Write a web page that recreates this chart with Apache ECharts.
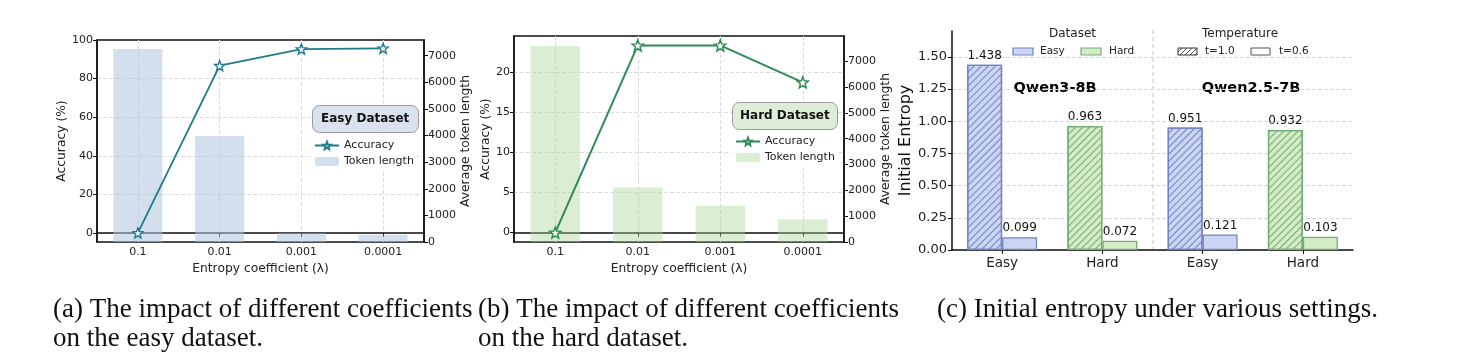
<!DOCTYPE html>
<html>
<head>
<meta charset="utf-8">
<script src="https://cdn.jsdelivr.net/npm/echarts@6/dist/echarts.min.js"></script>
<style>
  html, body { margin: 0; padding: 0; background: #fff; }
  #main { width: 1463px; height: 353px; }
</style>
</head>
<body>
<div id="main"></div>
<script>
// data
var lambdas = ['0.1', '0.01', '0.001', '0.0001'];
var easyAcc = [0, 86.7, 95.3, 95.7];
var easyTokens = [7250, 3980, 330, 270];
var hardAcc = [0, 23.3, 23.3, 18.7];
var hardTokens = [7590, 2115, 1400, 880];

var entropyGroups = ['Easy', 'Hard', 'Easy', 'Hard'];
var entropyT10 = [1.438, 0.963, 0.951, 0.932];
var entropyT06 = [0.099, 0.072, 0.121, 0.103];
var models = ['Qwen3-8B', 'Qwen2.5-7B'];

var FONT = 'DejaVu Sans';
var SERIF = 'Liberation Serif';
var STAR = 'path://M12,1 L14.9,8.6 L23,9 L16.7,14.1 L18.8,22 L12,17.6 L5.2,22 L7.3,14.1 L1,9 L9.1,8.6 Z';

var dsColors = {
    Easy: { fill: '#cad5f2', edge: '#7483c4' },
    Hard: { fill: '#d3ebc7', edge: '#74ae72' }
};

var myChart = echarts.init(document.getElementById('main'));

function hatch(color) {
    return {
        symbol: 'rect',
        symbolSize: 1,
        dashArrayX: [[1, 0]],
        dashArrayY: [1, 3.3],
        rotation: -Math.PI / 4,
        color: color
    };
}

function leftAxis(grid, min, max, name, gap) {
    return {
        type: 'value', gridIndex: grid, position: 'left', min: min, max: max,
        name: name, nameLocation: 'middle', nameGap: gap,
        nameTextStyle: { fontFamily: FONT, fontSize: 12.3, color: '#222' },
        axisLine: { show: true, lineStyle: { color: '#111', width: 1.5 } },
        axisTick: { show: true, length: 4, lineStyle: { color: '#111' } },
        axisLabel: { fontFamily: FONT, fontSize: 11, color: '#222', margin: 4,
            showMinLabel: false, showMaxLabel: max === 100 },
        splitLine: { show: true, showMinLine: false, showMaxLine: false,
            lineStyle: { type: 'dashed', color: '#dcdcdc' } }
    };
}

function rightAxis(grid, max, gap) {
    return {
        type: 'value', gridIndex: grid, position: 'right', min: 0, max: max, interval: 1000,
        name: 'Average token length', nameLocation: 'middle', nameGap: gap,
        nameTextStyle: { fontFamily: FONT, fontSize: 12.3, color: '#222' },
        axisLine: { show: true, lineStyle: { color: '#111', width: 1.5 } },
        axisTick: { show: true, length: 4, lineStyle: { color: '#111' } },
        axisLabel: { fontFamily: FONT, fontSize: 11, color: '#222', margin: 4, showMaxLabel: false,
            formatter: function (v) { return String(v); } },
        splitLine: { show: false }
    };
}

function lambdaAxis(grid) {
    return {
        type: 'category', gridIndex: grid, data: lambdas, boundaryGap: true,
        name: 'Entropy coefficient (λ)', nameLocation: 'middle', nameGap: 17,
        nameTextStyle: { fontFamily: FONT, fontSize: 12.3, color: '#222' },
        axisLine: { lineStyle: { color: '#111', width: 1.5 } },
        axisTick: { show: true, alignWithLabel: true, length: 4, lineStyle: { color: '#111' } },
        axisLabel: { fontFamily: FONT, fontSize: 11, color: '#222', margin: 5 },
        splitLine: { show: true, alignWithLabel: true, lineStyle: { type: 'dashed', color: '#dcdcdc' } }
    };
}

// hatched swatch for the temperature legend
function hatchSwatch(x, y, w, h) {
    var els = [{ type: 'rect', shape: { x: x, y: y, width: w, height: h },
        style: { fill: '#fff', stroke: '#333', lineWidth: 1 } }];
    for (var c = x + y + 4; c < x + y + w + h; c += 5) {
        var x1 = Math.max(x, c - (y + h)), x2 = Math.min(x + w, c - y);
        els.push({ type: 'line', shape: { x1: x1, y1: c - x1, x2: x2, y2: c - x2 },
            style: { stroke: '#333', lineWidth: 0.9 } });
    }
    return els;
}

var legendC = [
    { type: 'text', left: 1049, top: 28, style: { text: 'Dataset', font: '12px ' + FONT, fill: '#222' } },
    { type: 'text', left: 1202, top: 28, style: { text: 'Temperature', font: '12px ' + FONT, fill: '#222' } },
    { type: 'rect', shape: { x: 1013, y: 48, width: 20, height: 7 }, style: { fill: dsColors.Easy.fill, stroke: dsColors.Easy.edge, lineWidth: 1.2 } },
    { type: 'text', left: 1040, top: 46, style: { text: 'Easy', font: '10.5px ' + FONT, fill: '#222' } },
    { type: 'rect', shape: { x: 1081, y: 48, width: 20, height: 7 }, style: { fill: dsColors.Hard.fill, stroke: dsColors.Hard.edge, lineWidth: 1.2 } },
    { type: 'text', left: 1109, top: 46, style: { text: 'Hard', font: '10.5px ' + FONT, fill: '#222' } },
    { type: 'text', left: 1205, top: 46, style: { text: 't=1.0', font: '10.5px ' + FONT, fill: '#222' } },
    { type: 'rect', shape: { x: 1251, y: 48, width: 19, height: 7 }, style: { fill: '#fff', stroke: '#555', lineWidth: 1 } },
    { type: 'text', left: 1279, top: 46, style: { text: 't=0.6', font: '10.5px ' + FONT, fill: '#222' } }
].concat(hatchSwatch(1178, 48, 19, 7));

var captions = [
    { text: '(a) The impact of different coefficients', x: 53, y: 310 },
    { text: 'on the easy dataset.', x: 53, y: 339 },
    { text: '(b) The impact of different coefficients', x: 478, y: 310 },
    { text: 'on the hard dataset.', x: 478, y: 339 },
    { text: '(c) Initial entropy under various settings.', x: 937, y: 310 }
].map(function (c) {
    return { type: 'text', x: c.x, y: c.y,
        style: { text: c.text, font: '27px ' + SERIF, fill: '#111', verticalAlign: 'middle' } };
});

var option = {
    animation: false,
    backgroundColor: '#fff',
    title: [
        { text: 'Easy Dataset', left: 312, top: 105, padding: [8, 9],
          backgroundColor: '#dae2f0', borderColor: '#9a9a9a', borderWidth: 1, borderRadius: 7,
          textStyle: { fontFamily: FONT, fontSize: 12, fontWeight: 'bold', color: '#111' } },
        { text: 'Hard Dataset', left: 732, top: 102, padding: [8, 8],
          backgroundColor: '#deedd7', borderColor: '#9a9a9a', borderWidth: 1, borderRadius: 7,
          textStyle: { fontFamily: FONT, fontSize: 12, fontWeight: 'bold', color: '#111' } }
    ],
    legend: [
        { data: ['Accuracy', 'Token length'], orient: 'vertical', left: 310, top: 136,
          itemWidth: 24, itemHeight: 9, itemGap: 5, padding: [4, 4],
          backgroundColor: 'rgba(255,255,255,0.85)',
          textStyle: { fontFamily: FONT, fontSize: 11, color: '#222' } },
        { data: ['Accuracy (hard)', 'Token length (hard)'], orient: 'vertical', left: 731, top: 132,
          itemWidth: 24, itemHeight: 9, itemGap: 5, padding: [4, 4],
          backgroundColor: 'rgba(255,255,255,0.85)',
          formatter: function (n) { return n.replace(' (hard)', ''); },
          textStyle: { fontFamily: FONT, fontSize: 11, color: '#222' } }
    ],
    grid: [
        { left: 97, top: 40, width: 327, height: 202, show: true, borderColor: '#111', borderWidth: 1.5, backgroundColor: 'transparent' },
        { left: 514, top: 36, width: 330, height: 206, show: true, borderColor: '#111', borderWidth: 1.5, backgroundColor: 'transparent' },
        { left: 952, top: 31, width: 401, height: 219 }
    ],
    xAxis: [
        lambdaAxis(0),
        lambdaAxis(1),
        {
            type: 'category', gridIndex: 2, data: entropyGroups,
            axisLine: { lineStyle: { color: '#111', width: 1.5 } },
            axisTick: { show: true, alignWithLabel: true, length: 4, lineStyle: { color: '#111' } },
            axisLabel: { fontFamily: FONT, fontSize: 13.5, color: '#222', margin: 6 },
            splitLine: { show: false }
        }
    ],
    yAxis: [
        leftAxis(0, -4.7, 100, 'Accuracy (%)', 27),
        rightAxis(0, 7590, 34),
        leftAxis(1, -1.17, 24.47, 'Accuracy (%)', 20),
        rightAxis(1, 7980, 34),
        {
            type: 'value', gridIndex: 2, min: 0, max: 1.7, interval: 0.25,
            name: 'Initial Entropy', nameLocation: 'middle', nameGap: 37,
            nameTextStyle: { fontFamily: FONT, fontSize: 16, color: '#111' },
            axisLine: { show: true, lineStyle: { color: '#111', width: 1.5 } },
            axisTick: { show: true, length: 4, lineStyle: { color: '#111' } },
            axisLabel: { fontFamily: FONT, fontSize: 13, color: '#222', margin: 5, showMaxLabel: false,
                formatter: function (v) { return v.toFixed(2); } },
            splitLine: { show: true, showMaxLine: false, lineStyle: { type: 'dashed', color: '#d8d8d8' } }
        }
    ],
    graphic: [
        { type: 'line', shape: { x1: 1153, y1: 30, x2: 1153, y2: 250 },
          style: { stroke: '#c8c8c8', lineWidth: 1, lineDash: [4, 3] } },
        { type: 'text', x: 1055, y: 88, style: { text: models[0], font: 'bold 14.5px ' + FONT, fill: '#000', align: 'center', verticalAlign: 'middle' } },
        { type: 'text', x: 1251, y: 88, style: { text: models[1], font: 'bold 14.5px ' + FONT, fill: '#000', align: 'center', verticalAlign: 'middle' } }
    ].concat(legendC, captions),
    series: [
        { name: 'Token length', type: 'bar', xAxisIndex: 0, yAxisIndex: 1, barWidth: '60%',
          itemStyle: { color: 'rgba(176,196,224,0.55)' }, data: easyTokens, z: 1 },
        { name: 'Accuracy', type: 'line', xAxisIndex: 0, yAxisIndex: 0, data: easyAcc,
          symbol: STAR, symbolSize: 10, z: 5,
          lineStyle: { color: '#1f7a8a', width: 1.8 },
          itemStyle: { color: '#fff', borderColor: '#1f7a8a', borderWidth: 1.4 } },
        { name: 'Token length (hard)', type: 'bar', xAxisIndex: 1, yAxisIndex: 3, barWidth: '60%',
          itemStyle: { color: 'rgba(170,212,150,0.42)' }, data: hardTokens, z: 1 },
        { name: 'Accuracy (hard)', type: 'line', xAxisIndex: 1, yAxisIndex: 2, data: hardAcc,
          symbol: STAR, symbolSize: 11, z: 5,
          lineStyle: { color: '#2e8b57', width: 2 },
          itemStyle: { color: '#fff', borderColor: '#2e8b57', borderWidth: 1.5 } },
        { name: 't=1.0', type: 'bar', xAxisIndex: 2, yAxisIndex: 4, barWidth: 35, barGap: '0%',
          data: entropyT10.map(function (v, i) {
              var c = dsColors[entropyGroups[i]];
              return { value: v, itemStyle: { color: c.fill, borderColor: c.edge, borderWidth: 1.3, decal: hatch(c.edge) } };
          }),
          label: { show: true, position: 'top', distance: 3, fontFamily: FONT, fontSize: 12, color: '#111',
              formatter: function (p) { return p.value.toFixed(3); } } },
        { name: 't=0.6', type: 'bar', xAxisIndex: 2, yAxisIndex: 4, barWidth: 35, barGap: '0%',
          data: entropyT06.map(function (v, i) {
              var c = dsColors[entropyGroups[i]];
              return { value: v, itemStyle: { color: c.fill, borderColor: c.edge, borderWidth: 1.3 } };
          }),
          label: { show: true, position: 'top', distance: 3, fontFamily: FONT, fontSize: 12, color: '#111',
              formatter: function (p) { return p.value.toFixed(3); } } }
    ]
};

option && myChart.setOption(option);
</script>
</body>
</html>
